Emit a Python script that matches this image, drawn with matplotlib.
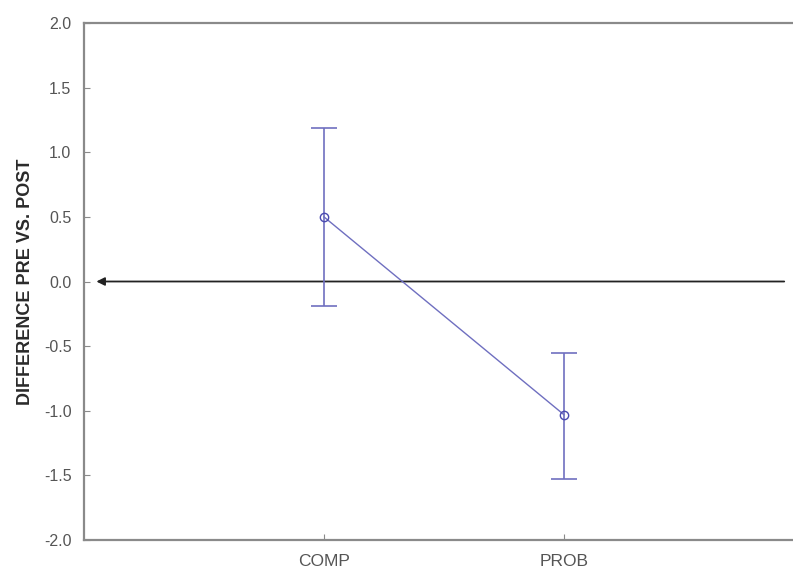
import matplotlib.pyplot as plt
import numpy as np

plt.rcParams["font.family"] = ["Liberation Sans", "DejaVu Sans"]

groups = ["COMP", "PROB"]
means = [0.50, -1.03]
err_low = [0.69, 0.50]
err_high = [0.69, 0.48]

x = np.arange(1, len(groups) + 1)

fig = plt.figure(figsize=(7.93, 5.69), dpi=100)
ax = fig.add_axes([84 / 793, 1 - 540 / 569, 1 - 84 / 793, (540 - 23) / 569])

line_col = "#6f6fc0"
ax.errorbar(
    x,
    means,
    yerr=[err_low, err_high],
    fmt="o-",
    color=line_col,
    mfc="none",
    mec="#4a4ab0",
    ms=6,
    lw=1.0,
    elinewidth=1.2,
    capsize=9.3,
    capthick=1.2,
    zorder=3,
)

# zero reference line with arrow to the left
ax.annotate(
    "",
    xy=(0.04, 0.0),
    xytext=(2.93, 0.0),
    arrowprops=dict(arrowstyle="-|>", color="#222222", lw=1.3, mutation_scale=12),
    zorder=2,
)

ax.set_xlim(0, 2.955)
ax.set_ylim(-2.0, 2.0)
ax.set_xticks(x)
ax.set_xticklabels(groups)
ax.set_yticks(np.arange(-2.0, 2.01, 0.5))
ax.set_yticklabels([f"{v:.1f}" for v in np.arange(-2.0, 2.01, 0.5)])

for s in ["left", "top", "bottom"]:
    ax.spines[s].set_color("#8a8a8a")
    ax.spines[s].set_linewidth(1.6)
ax.spines["right"].set_visible(False)

ax.tick_params(axis="both", direction="in", length=4, color="#8a8a8a",
               labelsize=11.5, labelcolor="#555555")
ax.tick_params(axis="y", pad=9)
ax.tick_params(axis="x", pad=10, labelsize=12.5)
ax.set_ylabel("DIFFERENCE PRE VS. POST", fontsize=13, fontweight="bold",
              color="#2a2a2a")
ax.yaxis.set_label_coords(-0.071, 0.5)

fig.savefig("out.png", dpi=100)
